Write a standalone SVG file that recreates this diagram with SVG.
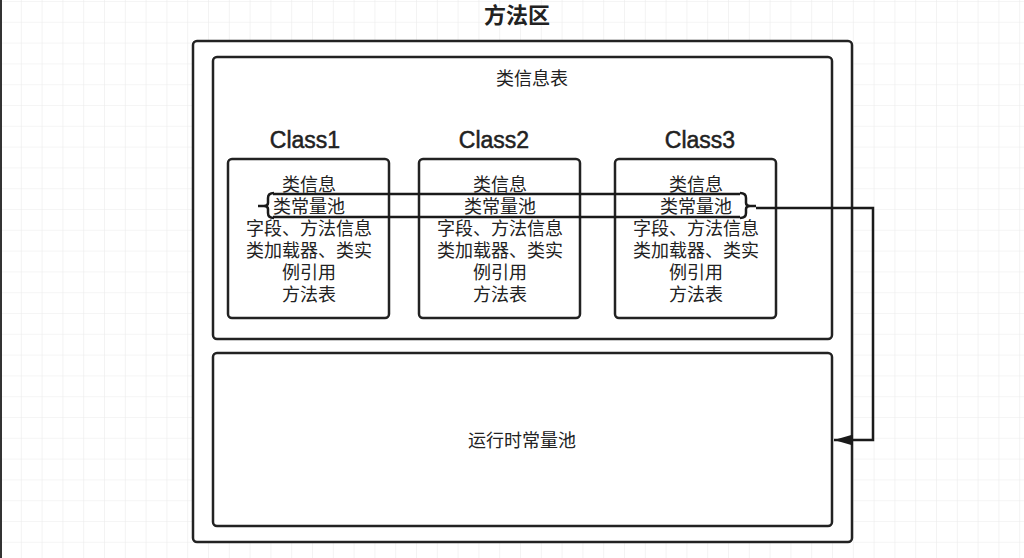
<svg xmlns="http://www.w3.org/2000/svg" width="1024" height="558" viewBox="0 0 1024 558">
<defs>
<pattern id="grid" x="1" y="2" width="20.8" height="20.8" patternUnits="userSpaceOnUse">
<path d="M20.8 0V20.8M0 20.8H20.8" fill="none" stroke="#ececec" stroke-width="1.2"/>
</pattern>
<marker id="arr" markerWidth="19" markerHeight="11" refX="19" refY="5.5" orient="auto" markerUnits="userSpaceOnUse" viewBox="0 0 19 11">
<path d="M0 0L19 5.5L0 11Z" fill="#1a1a1a"/>
</marker>
<style>
.box{fill:#fff;stroke:#222;stroke-width:2.5}
.t{font-family:"Liberation Sans","Noto Sans CJK SC",sans-serif;fill:#222;text-anchor:middle}
.b{font-weight:bold}
.h{font-size:23px;stroke:#222;stroke-width:0.5}
.c{font-size:18px}
.ln{fill:none;stroke:#1a1a1a;stroke-width:2.5}
</style>
</defs>
<rect width="1024" height="558" fill="#fff"/>
<rect width="1024" height="558" fill="url(#grid)"/>
<line x1="1" y1="0" x2="1" y2="558" stroke="#333" stroke-width="2"/>
<g id="title"><text class="t b" x="517" y="23" font-size="22">方法区</text></g>
<g id="method-area"><rect class="box" x="193" y="41" width="659" height="501" rx="4"/></g>
<g id="class-info-table"><rect class="box" x="213" y="57" width="619" height="282" rx="4"/>
<text class="t c" x="532" y="85">类信息表</text></g>
<g id="class1"><text class="t h" x="305" y="148">Class1</text>
<rect class="box" x="228" y="159" width="161" height="159" rx="4"/>
<text class="t c"><tspan x="309" y="191">类信息</tspan><tspan x="309" y="213">类常量池</tspan><tspan x="309" y="235">字段、方法信息</tspan><tspan x="309" y="257">类加载器、类实</tspan><tspan x="309" y="279">例引用</tspan><tspan x="309" y="301">方法表</tspan></text></g>
<g id="class2"><text class="t h" x="494" y="148">Class2</text>
<rect class="box" x="419" y="159" width="161" height="159" rx="4"/>
<text class="t c"><tspan x="500" y="191">类信息</tspan><tspan x="500" y="213">类常量池</tspan><tspan x="500" y="235">字段、方法信息</tspan><tspan x="500" y="257">类加载器、类实</tspan><tspan x="500" y="279">例引用</tspan><tspan x="500" y="301">方法表</tspan></text></g>
<g id="class3"><text class="t h" x="700" y="148">Class3</text>
<rect class="box" x="615" y="159" width="161" height="159" rx="4"/>
<text class="t c"><tspan x="696" y="191">类信息</tspan><tspan x="696" y="213">类常量池</tspan><tspan x="696" y="235">字段、方法信息</tspan><tspan x="696" y="257">类加载器、类实</tspan><tspan x="696" y="279">例引用</tspan><tspan x="696" y="301">方法表</tspan></text></g>
<g id="runtime-pool"><rect class="box" x="213" y="353" width="619" height="173" rx="4"/>
<text class="t c" x="522" y="447">运行时常量池</text></g>
<g id="connectors">
<path class="ln" d="M273 194H740M273 217H740"/>
<path class="ln" d="M274 193Q268 193 268 198V203Q268 206 264 206H258M264 206Q268 206 268 209V213Q268 218 274 218"/>
<path class="ln" d="M740 193Q746 193 746 198V203Q746 206 750 206H756M750 206Q746 206 746 209V213Q746 218 740 218"/>
<path class="ln" d="M756 208H873V440H834" marker-end="url(#arr)"/>
</g>
</svg>
